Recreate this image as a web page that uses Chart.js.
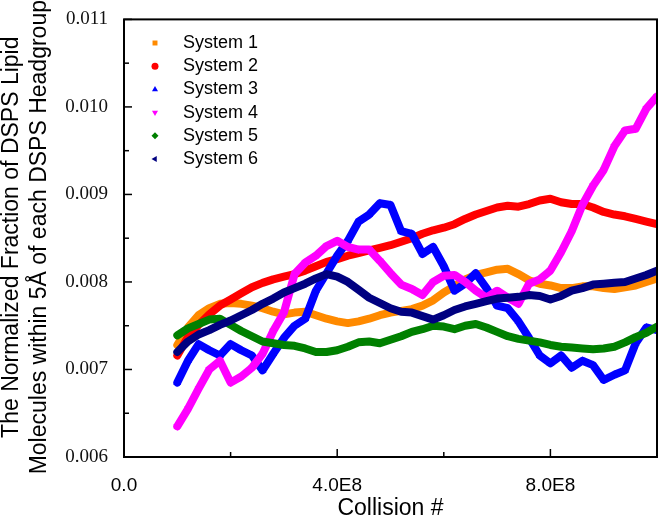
<!DOCTYPE html>
<html>
<head>
<meta charset="utf-8">
<script src="https://cdn.jsdelivr.net/npm/chart.js@4.4.1/dist/chart.umd.min.js"></script>
<style>
    html, body { margin: 0; padding: 0; background: #fff; }
    #wrap { width: 666px; height: 518px; position: relative; }
</style>
</head>
<body>
<div id="wrap"><canvas id="chart"></canvas></div>
<script>
// Collision number (x), one reading every 2E7 collisions
const collisions = [
    1.0e8, 1.2e8, 1.4e8, 1.6e8, 1.8e8, 2.0e8, 2.2e8, 2.4e8, 2.6e8, 2.8e8,
    3.0e8, 3.2e8, 3.4e8, 3.6e8, 3.8e8, 4.0e8, 4.2e8, 4.4e8, 4.6e8, 4.8e8,
    5.0e8, 5.2e8, 5.4e8, 5.6e8, 5.8e8, 6.0e8, 6.2e8, 6.4e8, 6.6e8, 6.8e8,
    7.0e8, 7.2e8, 7.4e8, 7.6e8, 7.8e8, 8.0e8, 8.2e8, 8.4e8, 8.6e8, 8.8e8,
    9.0e8, 9.2e8, 9.4e8, 9.6e8, 9.8e8, 10.0e8
];

const system1 = [
    0.00728, 0.00748, 0.00762, 0.00770, 0.00775, 0.00776, 0.00775, 0.00773, 0.00770, 0.00766,
    0.00763, 0.00765, 0.00766, 0.00762, 0.00758, 0.00755, 0.00753, 0.00755, 0.00758, 0.00762,
    0.00765, 0.00767, 0.00769, 0.00773, 0.00779, 0.00788, 0.00795, 0.00803, 0.00808, 0.00811,
    0.00814, 0.00815, 0.00809, 0.00802, 0.00798, 0.00796, 0.00793, 0.00793, 0.00795, 0.00795,
    0.00793, 0.00792, 0.00794, 0.00796, 0.00800, 0.00804
];
const system2 = [
    0.00716, 0.00737, 0.00751, 0.00763, 0.00773, 0.00780, 0.00787, 0.00794, 0.00799, 0.00803,
    0.00806, 0.00809, 0.00813, 0.00818, 0.00823, 0.00826, 0.00830, 0.00833, 0.00836, 0.00839,
    0.00842, 0.00846, 0.00850, 0.00855, 0.00859, 0.00862, 0.00866, 0.00872, 0.00877, 0.00881,
    0.00885, 0.00887, 0.00886, 0.00889, 0.00893, 0.00895, 0.00891, 0.00889, 0.00889, 0.00885,
    0.00880, 0.00877, 0.00875, 0.00872, 0.00869, 0.00866
];
const system3 = [
    0.00685, 0.00710, 0.00729, 0.00722, 0.00716, 0.00729, 0.00722, 0.00716, 0.00699, 0.00718,
    0.00736, 0.00750, 0.00758, 0.00790, 0.00810, 0.00830, 0.00847, 0.00869, 0.00877, 0.00890,
    0.00888, 0.00858, 0.00855, 0.00832, 0.00840, 0.00818, 0.00790, 0.00798, 0.00810, 0.00793,
    0.00773, 0.00770, 0.00755, 0.00736, 0.00716, 0.00707, 0.00716, 0.00702, 0.00710, 0.00705,
    0.00688, 0.00694, 0.00699, 0.00730, 0.00748, 0.00745
];
const system4 = [
    0.00635, 0.00655, 0.00678, 0.00700, 0.00710, 0.00685, 0.00692, 0.00702, 0.00718, 0.00744,
    0.00765, 0.00809, 0.00822, 0.00830, 0.00841, 0.00847, 0.00840, 0.00837, 0.00837, 0.00824,
    0.00810, 0.00797, 0.00792, 0.00785, 0.00800, 0.00807, 0.00808, 0.00800, 0.00790, 0.00782,
    0.00790, 0.00782, 0.00775, 0.00798, 0.00803, 0.00813, 0.00834, 0.00858, 0.00888, 0.00910,
    0.00928, 0.00955, 0.00973, 0.00975, 0.00998, 0.01012
];
const system5 = [
    0.00739, 0.00747, 0.00752, 0.00757, 0.00758, 0.00751, 0.00744, 0.00738, 0.00732, 0.00730,
    0.00728, 0.00727, 0.00724, 0.00720, 0.00720, 0.00722, 0.00726, 0.00731, 0.00732, 0.00730,
    0.00734, 0.00738, 0.00743, 0.00746, 0.00750, 0.00749, 0.00746, 0.00750, 0.00752, 0.00748,
    0.00743, 0.00738, 0.00735, 0.00733, 0.00731, 0.00728, 0.00726, 0.00725, 0.00724, 0.00723,
    0.00724, 0.00726, 0.00731, 0.00737, 0.00742, 0.00749
];
const system6 = [
    0.00720, 0.00732, 0.00740, 0.00745, 0.00751, 0.00756, 0.00762, 0.00768, 0.00775, 0.00781,
    0.00788, 0.00793, 0.00798, 0.00804, 0.00809, 0.00806, 0.00800, 0.00791, 0.00782, 0.00776,
    0.00770, 0.00766, 0.00765, 0.00761, 0.00757, 0.00762, 0.00768, 0.00772, 0.00775, 0.00778,
    0.00781, 0.00782, 0.00783, 0.00785, 0.00784, 0.00780, 0.00784, 0.00790, 0.00793, 0.00797,
    0.00798, 0.00799, 0.00800, 0.00804, 0.00808, 0.00813
];

const seriesNames = ['System 1', 'System 2', 'System 3', 'System 4', 'System 5', 'System 6'];
const seriesValues = [system1, system2, system3, system4, system5, system6];
const seriesColors = ['#ff8a00', '#ff0000', '#0000ff', '#ff00ff', '#008000', '#000080'];
const seriesMarkers = ['rect', 'circle', 'triangle', 'triangle', 'rectRot', 'triangle'];
const markerRotation = [0, 0, 0, 180, 0, -90];

const yTitle = ['The Normalized Fraction of DSPS Lipid', 'Molecules within 5\u00C5 of each DSPS Headgroup'];

const SANS = '"Liberation Sans", Arial, sans-serif';
const SERIF = '"Liberation Serif", "Times New Roman", serif';

const datasets = seriesNames.map((name, i) => ({
    label: name,
    data: collisions.map((c, k) => ({ x: c, y: seriesValues[i][k] })),
    borderColor: seriesColors[i],
    backgroundColor: seriesColors[i],
    borderWidth: 8,
    borderJoinStyle: 'round',
    borderCapStyle: 'round',
    pointStyle: seriesMarkers[i],
    pointRotation: markerRotation[i],
    pointRadius: (i === 2 || i === 3) ? 4.5 : 3,
    pointBorderWidth: 0,
    showLine: true,
    order: 6 - i,
}));

// frame, inward ticks, legend and the two-line y title
const decorations = {
    id: 'decorations',
    afterDraw(chart) {
        const { ctx, chartArea: a, scales: { x, y } } = chart;
        ctx.save();
        ctx.strokeStyle = '#000';
        ctx.lineWidth = 1.5;
        x.ticks.forEach(t => {
            const px = x.getPixelForValue(t.value);
            const len = t.value % 4e8 === 0 ? 8 : 5;
            ctx.beginPath();
            ctx.moveTo(px, a.bottom);
            ctx.lineTo(px, a.bottom - len);
            ctx.stroke();
        });
        y.ticks.forEach(t => {
            const py = y.getPixelForValue(t.value);
            const len = Math.round(t.value * 10000) % 10 === 0 ? 8 : 5;
            ctx.beginPath();
            ctx.moveTo(a.left, py);
            ctx.lineTo(a.left + len, py);
            ctx.stroke();
        });
        ctx.lineWidth = 2;
        ctx.strokeRect(a.left, a.top, a.right - a.left, a.bottom - a.top);

        // legend
        ctx.font = '18px ' + SANS;
        ctx.textBaseline = 'middle';
        ctx.textAlign = 'left';
        chart.data.datasets.forEach((ds, i) => {
            const ly = 43 + i * 23.2;
            ctx.fillStyle = ds.backgroundColor;
            Chart.helpers.drawPoint(ctx, {
                pointStyle: ds.pointStyle,
                rotation: ds.pointRotation,
                radius: 3.5,
                borderWidth: 0,
            }, 155, ly);
            ctx.fillStyle = '#000';
            ctx.fillText(ds.label, 183, ly);
        });

        // y title
        ctx.translate(0, (a.top + a.bottom) / 2 - 1);
        ctx.rotate(-Math.PI / 2);
        ctx.font = '23px ' + SANS;
        ctx.textAlign = 'center';
        ctx.textBaseline = 'alphabetic';
        ctx.fillStyle = '#000';
        ctx.fillText(yTitle[0], 0, 18);
        ctx.fillText(yTitle[1], 0, 46);
        ctx.restore();
    },
};

new Chart(document.getElementById('chart'), {
    type: 'scatter',
    data: { datasets },
    options: {
        responsive: true,
        maintainAspectRatio: false,
        animation: false,
        layout: { padding: { top: 17, right: 2, left: 0, bottom: 0 } },
        plugins: {
            legend: { display: false },
            tooltip: { enabled: false },
        },
        scales: {
            x: {
                type: 'linear',
                min: 0,
                max: 1e9,
                grid: { display: false },
                border: { display: false },
                ticks: {
                    stepSize: 2e8,
                    autoSkip: false,
                    maxRotation: 0,
                    padding: 9,
                    color: '#000',
                    font: { family: SANS, size: 19 },
                    callback: v => v % 4e8 === 0 ? (v === 0 ? '0.0' : (v / 1e8).toFixed(1) + 'E8') : '',
                },
                title: {
                    display: true,
                    text: 'Collision #',
                    color: '#000',
                    font: { family: SANS, size: 23, lineHeight: 1 },
                    padding: { top: 0, bottom: -2.5 },
                },
                afterFit: s => { s.height = 61; },
            },
            y: {
                type: 'linear',
                min: 0.006,
                max: 0.011,
                grid: { display: false },
                border: { display: false },
                ticks: {
                    stepSize: 0.0005,
                    autoSkip: false,
                    padding: 8,
                    color: '#111',
                    font: { family: SERIF, size: 19 },
                    callback: v => {
                        const k = Math.round(v * 10000);
                        return k % 10 === 0 ? (k / 10000).toFixed(3) : '';
                    },
                },
                afterFit: s => { s.width = 124; },
            },
        },
    },
    plugins: [decorations],
});
</script>
</body>
</html>
